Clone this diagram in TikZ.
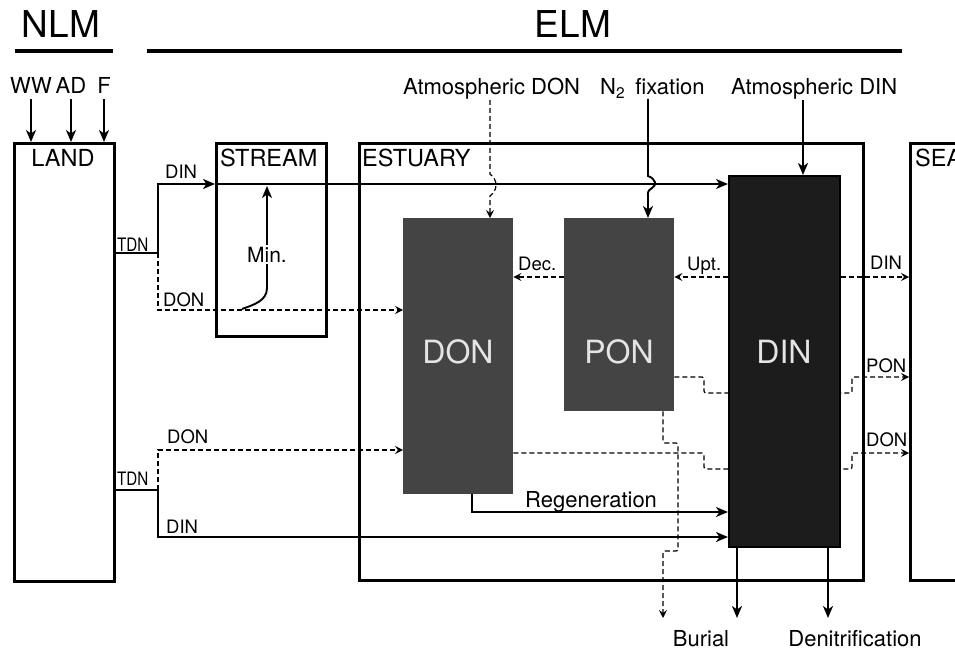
\documentclass[tikz,border=0pt]{standalone}
\usepackage{fontspec}
\setmainfont{TeX Gyre Heros}
\usepackage{graphicx}
\usetikzlibrary{arrows.meta,positioning}
\definecolor{PoolGray}{RGB}{68,68,68}
\definecolor{PoolDark}{RGB}{28,28,28}
\definecolor{PoolInk}{RGB}{228,228,228}
\pgfdeclarelayer{back}
\pgfsetlayers{back,main}

\begin{document}
\begin{tikzpicture}[x=1pt,y=-1pt,
    compart/.style={draw,line width=2.8pt,inner sep=0pt,anchor=north west},
    pool/.style={fill=PoolGray,inner sep=0pt,anchor=north west},
    flow/.style={line width=1.9pt,-{Stealth[length=12pt,width=10pt,inset=3.5pt]}},
    dflow/.style={line width=1.2pt,dash pattern=on 5pt off 3pt,-{Stealth[length=8pt,width=8pt,inset=3pt]}},
    pipe/.style={line width=1.9pt},
    head/.style={anchor=base,inner sep=0pt,font=\fontsize{37}{40}\selectfont},
    boxname/.style={anchor=base west,inner sep=0pt,font=\fontsize{23.5}{26}\selectfont},
    poolname/.style={anchor=base,inner sep=0pt,text=PoolInk,font=\fontsize{32}{36}\selectfont},
    src/.style={anchor=base west,inner sep=0pt,font=\fontsize{22}{26}\selectfont},
    tag/.style={anchor=base west,inner sep=0pt,font=\fontsize{18.5}{22}\selectfont}]
      \useasboundingbox (0,0) rectangle (955,650);

      \node[head] (nlm) at (61,38) {NLM};
      \node[head] (elm) at (573,38) {ELM};
      \draw[line width=3.8pt] (15,51) -- (113,51);
      \draw[line width=3.8pt] (147,51) -- (902,51);

      \node[compart,minimum width=100,minimum height=438] (land) at (13,142) {};
      \node[compart,minimum width=110,minimum height=193] (stream) at (215,142) {};
      \node[compart,minimum width=504,minimum height=437] (estuary) at (358,142) {};
      \node[compart,minimum width=80,minimum height=437] (sea) at (909,142) {};
      \node[boxname,anchor=base] (landname) at (63,166) {LAND};
      \node[boxname] (streamname) at (220,166) {STREAM};
      \node[boxname] (estuaryname) at (362,166) {ESTUARY};
      \node[boxname] (seaname) at (915,166) {SEA};

      \node[pool,minimum width=110,minimum height=276] (don) at (403,218) {};
      \node[pool,minimum width=110,minimum height=193] (pon) at (564,218) {};
      \node[pool,fill=PoolDark,draw=black,line width=2.2pt,minimum width=111,minimum height=371] (din) at (728,175) {};
      \node[poolname] (donname) at (458,363) {DON};
      \node[poolname] (ponname) at (619,363) {PON};
      \node[poolname] (dinname) at (784,363) {DIN};

      % land inputs
      \node[src,anchor=base] (ww) at (31,94) {WW};
      \node[src,anchor=base] (ad) at (71,94) {AD};
      \node[src,anchor=base] (fert) at (104,94) {F};
      \foreach \s in {ww,ad,fert}
        \draw[flow] ([yshift=-5pt]\s.base) -- (\s.base |- land.north);

      % atmosphere
      \node[src] (atmdon) at (403,95) {Atmospheric DON};
      \node[src] (nfix) at (600,95) {N\textsubscript{2}\hspace{4pt} fixation};
      \node[src] (atmdin) at (731,95) {Atmospheric DIN};
      \draw[dflow] (atmdon.south -| 490,0) -- (490,174) .. controls (498,180) and (498,190) .. (490,196) -- (don.north -| 490,0);
      \draw[flow] (nfix.south -| 648,0) -- (648,176) .. controls (656,179) and (657,185) .. (652,188) .. controls (647,191) and (648,193) .. (648,197) -- (pon.north -| 648,0);
      \draw[flow] (atmdin.south -| 803,0) -- (din.north -| 803,0);

      % upper TDN
      \coordinate (tdnA) at (158,253);
      \draw[pipe] (land.east |- tdnA) -- (tdnA);
      \draw[flow] (tdnA) |- (stream.west |- 0,184);
      \draw[flow] (stream.west |- 0,184) -- (din.west |- 0,184);
      \draw[dflow] (tdnA) |- (don.west |- 0,310);
      \node[tag] (tdnAname) at (117,251) {\scalebox{0.82}[1]{TDN}};
      \node[tag] (dinA) at (165,178) {DIN};
      \node[tag] (donA) at (163,306) {DON};

      \coordinate (minfoot) at (242,309);
      \coordinate (mintop) at (267,186);
      \draw[flow] (minfoot) to[out=20,in=-90] (267,288) -- (mintop);
      \node[src,anchor=base,fill=white,inner sep=1.5pt,font=\fontsize{21}{24}\selectfont] (minname) at (267,262) {Min.};

      % lower TDN
      \coordinate (tdnB) at (158,490);
      \draw[pipe] (land.east |- tdnB) -- (tdnB);
      \draw[dflow] (tdnB) |- (don.west |- 0,450);
      \draw[flow] (tdnB) |- (din.west |- 0,537);
      \node[tag] (tdnBname) at (117,485) {\scalebox{0.82}[1]{TDN}};
      \node[tag] (donB) at (167,443) {DON};
      \node[tag] (dinB) at (166,533) {DIN};

      % estuary exchanges
      \draw[dflow] (din.west |- 0,277) -- (pon.east |- 0,277);
      \draw[dflow] (pon.west |- 0,277) -- (don.east |- 0,277);
      \draw[dflow] (din.east |- 0,277) -- (sea.west |- 0,277);
      \node[tag] (dec) at (518,270) {Dec.};
      \node[tag] (upt) at (687,270) {Upt.};
      \node[tag] (dinC) at (870,269) {DIN};

      \begin{pgfonlayer}{back}
        \draw[dflow,rounded corners=2pt] (pon.east |- 0,377) -| (704,393) -- (852,393) |- (sea.west |- 0,377);
        \draw[dflow,rounded corners=2pt] (don.east |- 0,453) -| (704,469) -- (852,469) |- (sea.west |- 0,453);
      \end{pgfonlayer}
      \node[tag] (ponC) at (866,372) {PON};
      \node[tag] (donC) at (866,446) {DON};

      \draw[flow] (don.south -| 472,0) |- (din.west |- 0,512);
      \node[src] (regen) at (525,507) {Regeneration};

      % losses
      \coordinate (sink) at (663,618);
      \coordinate (burialend) at (737,618);
      \coordinate (denitend) at (828,618);
      \draw[dflow,rounded corners=2pt] (pon.south -| sink) -- (663,443) -- (678,443) -- (678,551) -- (663,551) -- (sink);
      \draw[flow] (din.south -| burialend) -- (burialend);
      \draw[flow] (din.south -| denitend) -- (denitend);
      \node[src,anchor=base] (burial) at (701,646) {Burial};
      \node[src,anchor=base] (denit) at (855,646) {Denitrification};
    \end{tikzpicture}
\end{document}
